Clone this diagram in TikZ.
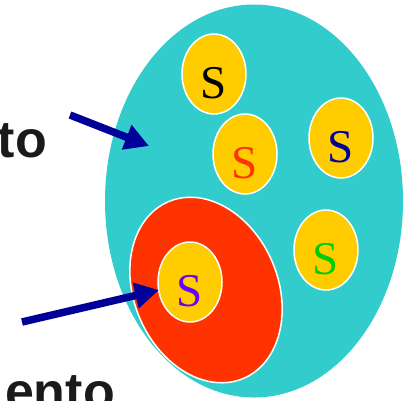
\documentclass[tikz,border=0pt]{standalone}
\usepackage{fontspec}
\setmainfont{Liberation Serif}
\newfontfamily\labelsans{Liberation Sans}
\usetikzlibrary{shapes.geometric,arrows.meta}
\definecolor{setcyan}{HTML}{33CCCC}
\definecolor{subred}{HTML}{FF3300}
\definecolor{elemyellow}{HTML}{FFCC00}
\definecolor{arrownavy}{HTML}{000099}
\definecolor{sgreen}{HTML}{00CC00}
\definecolor{spurple}{HTML}{6600FF}
\definecolor{sorange}{HTML}{FF3300}
\definecolor{textdark}{HTML}{1A1A1A}
\begin{document}
\begin{tikzpicture}[x=1pt,y=-1pt,
  elem/.style={ellipse, fill=elemyellow, draw=white, line width=1.5pt, minimum width=64pt, minimum height=80pt, inner sep=0pt},
  sletter/.style={font=\fontsize{47}{47}\selectfont, inner sep=0pt},
  bigword/.style={font=\labelsans\bfseries\fontsize{52}{52}\selectfont, text=textdark, inner sep=0pt},
  pointer/.style={arrownavy, line width=7.5pt, -{Triangle[length=24pt,width=25pt]}}]
\useasboundingbox (0,0) rectangle (403,400);
\clip (0,0) rectangle (403,400);
\node[ellipse, fill=setcyan, minimum width=298pt, minimum height=393pt, inner sep=0pt] (set) at (254,201) {};
\node[ellipse, fill=subred, draw=white, line width=1.5pt, minimum width=144pt, minimum height=192pt, inner sep=0pt, rotate=23] (sub) at (206,290) {};
\node[elem] (e1) at (214,74) {};
\node[elem] (e2) at (245,154) {};
\node[elem] (e3) at (341,138) {};
\node[elem] (e4) at (326,250) {};
\node[elem] (e5) at (190,282) {};
\node[sletter, text=black] (s1) at ([yshift=-9pt]e1.center) {S};
\node[sletter, text=sorange] (s2) at ([yshift=-9pt]e2.center) {S};
\node[sletter, text=arrownavy] (s3) at ([yshift=-9pt]e3.center) {S};
\node[sletter, text=sgreen] (s4) at ([yshift=-9pt]e4.center) {S};
\node[sletter, text=spurple] (s5) at ([yshift=-9pt]e5.center) {S};
\node[bigword, anchor=base east] (w1) at (47,157) {to};
\node[bigword, anchor=base east] (w2) at (115,409) {ento};
\coordinate (a1s) at (70,115);
\coordinate (a1e) at (149,146);
\coordinate (a2s) at (22,322);
\coordinate (a2e) at (159,290);
\draw[pointer] (a1s) -- (a1e);
\draw[pointer] (a2s) -- (a2e);
\end{tikzpicture}
\end{document}
